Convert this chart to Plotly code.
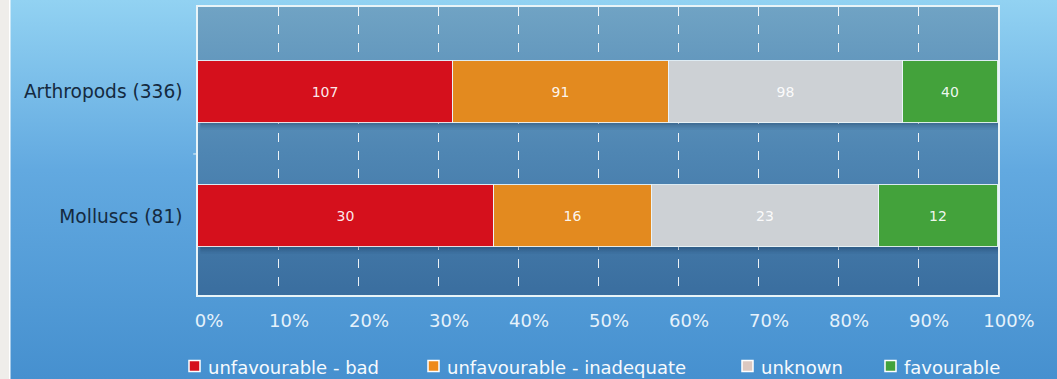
import base64
import plotly.graph_objects as go

# Conservation status counts per taxonomic group
groups = ["Arthropods", "Molluscs"]
statuses = ["unfavourable - bad", "unfavourable - inadequate", "unknown", "favourable"]
counts = {
    "unfavourable - bad": [107, 30],
    "unfavourable - inadequate": [91, 16],
    "unknown": [98, 23],
    "favourable": [40, 12],
}
colors = {
    "unfavourable - bad": "#d5101c",
    "unfavourable - inadequate": "#e38a1f",
    "unknown": "#cdd1d5",
    "favourable": "#43a23b",
}
legend_marker = {
    "unfavourable - bad": "#d5101c",
    "unfavourable - inadequate": "#ee8a1a",
    "unknown": "#dcc8c0",
    "favourable": "#43a23b",
}
tick_vals = [0, 10, 20, 30, 40, 50, 60, 70, 80, 90, 100]
tick_text = ["%d%%" % v for v in tick_vals]

totals = [sum(counts[s][i] for s in statuses) for i in range(len(groups))]
labels = ["%s (%d)" % (g, t) for g, t in zip(groups, totals)]

W, H = 1057, 379
L, R, T, B = 198, 59, 7, 84
PW, PH = W - L - R, H - T - B
FONT = "DejaVu Sans"


def svg_uri(svg):
    return "data:image/svg+xml;base64," + base64.b64encode(svg.encode()).decode()


def px_x(px):
    return (px - L) / PW


def px_y(py):
    return 1 - (py - T) / PH


outer_bg = svg_uri(
    f'<svg xmlns="http://www.w3.org/2000/svg" width="{W}" height="{H}" preserveAspectRatio="none">'
    '<defs><linearGradient id="g" x1="0" y1="0" x2="0" y2="1">'
    '<stop offset="0" stop-color="#92d2f2"/><stop offset="0.45" stop-color="#62a9e0"/>'
    '<stop offset="1" stop-color="#4690cf"/></linearGradient></defs>'
    f'<rect width="{W}" height="{H}" fill="url(#g)"/>'
    f'<rect x="0" y="0" width="9" height="{H}" fill="#efedea"/>'
    f'<rect x="9" y="0" width="1.5" height="{H}" fill="#ffffff"/>'
    '</svg>'
)
plot_bg = svg_uri(
    f'<svg xmlns="http://www.w3.org/2000/svg" width="{PW}" height="{PH}" preserveAspectRatio="none">'
    '<defs><linearGradient id="p" x1="0" y1="0" x2="0" y2="1">'
    '<stop offset="0" stop-color="#70a3c4"/><stop offset="0.5" stop-color="#4f86b3"/>'
    '<stop offset="1" stop-color="#3a6e9f"/></linearGradient></defs>'
    f'<rect width="{PW}" height="{PH}" fill="url(#p)"/></svg>'
)

fig = go.Figure()

# Category positions: Molluscs at 0, Arthropods at 1
ypos = [1, 0]
bar_w = 0.5

for s in statuses:
    pct = [counts[s][i] / totals[i] * 100 for i in range(len(groups))]
    fig.add_trace(go.Bar(
        x=pct, y=ypos, orientation="h", width=bar_w,
        name=s, showlegend=False,
        marker=dict(color=colors[s], line=dict(color="rgba(235,245,250,0.9)", width=1)),
        text=[str(c) for c in counts[s]], textposition="inside",
        insidetextanchor="middle",
        textfont=dict(family=FONT, size=14, color="rgba(255,255,255,0.93)"),
        hoverinfo="skip",
    ))

# soft drop shadow under each bar, a little heavier toward the right end
for y in ypos:
    for k, a in enumerate([0.10, 0.08, 0.06, 0.04]):
        fig.add_shape(type="rect", layer="between", xref="x", yref="y",
                      x0=0.3, x1=100 + 0.2 + 0.2 * k,
                      y0=y - bar_w / 2 - 0.014 * (k + 1), y1=y + bar_w / 2 - 0.03,
                      fillcolor="rgba(10,30,60,%.2f)" % a, line_width=0)

# legend row: swatch + label for each status
legend_swatch_px = [189, 428, 742, 885]
legend_y_px = 366
for s, x0 in zip(statuses, legend_swatch_px):
    fig.add_shape(type="rect", xref="paper", yref="paper",
                  x0=px_x(x0), x1=px_x(x0 + 11),
                  y0=px_y(legend_y_px + 5.5), y1=px_y(legend_y_px - 5.5),
                  fillcolor=legend_marker[s], line=dict(color="white", width=1.5))
    fig.add_annotation(text=s, xref="paper", yref="paper",
                       x=px_x(x0 + 17), y=px_y(legend_y_px + 1),
                       xanchor="left", yanchor="middle", showarrow=False,
                       font=dict(family=FONT, size=18, color="#f6fafd"))

fig.update_layout(
    width=W, height=H,
    margin=dict(l=L, r=R, t=T, b=B, autoexpand=False),
    paper_bgcolor="#4a93d0",
    plot_bgcolor="rgba(0,0,0,0)",
    barmode="stack",
    bargap=0,
    showlegend=False,
    images=[
        dict(source=outer_bg, xref="paper", yref="paper",
             x=-L / PW, y=1 + T / PH, sizex=W / PW, sizey=H / PH,
             sizing="stretch", layer="below", xanchor="left", yanchor="top"),
        dict(source=plot_bg, xref="paper", yref="paper",
             x=0, y=1, sizex=1, sizey=1,
             sizing="stretch", layer="below", xanchor="left", yanchor="top"),
    ],
    xaxis=dict(
        range=[0, 100], tickvals=tick_vals, ticktext=tick_text,
        showgrid=True, gridcolor="rgba(255,255,255,0.9)", gridwidth=1, griddash="dash",
        zeroline=False, showline=True, linecolor="#e8f4f8", linewidth=1.5, mirror=True,
        ticks="", ticklabelstandoff=9, ticklabelshift=11,
        tickfont=dict(family=FONT, size=18, color="#e6f2fb"),
        fixedrange=True,
    ),
    yaxis=dict(
        range=[-0.636, 1.684], tickvals=ypos, ticktext=labels,
        showgrid=False, zeroline=False, showline=True, linecolor="#e8f4f8",
        linewidth=1.5, mirror=True, ticks="", ticklabelstandoff=10,
        tickfont=dict(family=FONT, size=18.6, color="#142a40"),
        fixedrange=True,
    ),
)

# small boundary tick between categories on the left axis
fig.add_shape(type="line", xref="paper", yref="y", x0=-0.006, x1=0, y0=0.5, y1=0.5,
              line=dict(color="#e8f4f8", width=1))

fig.write_html("out.html")
